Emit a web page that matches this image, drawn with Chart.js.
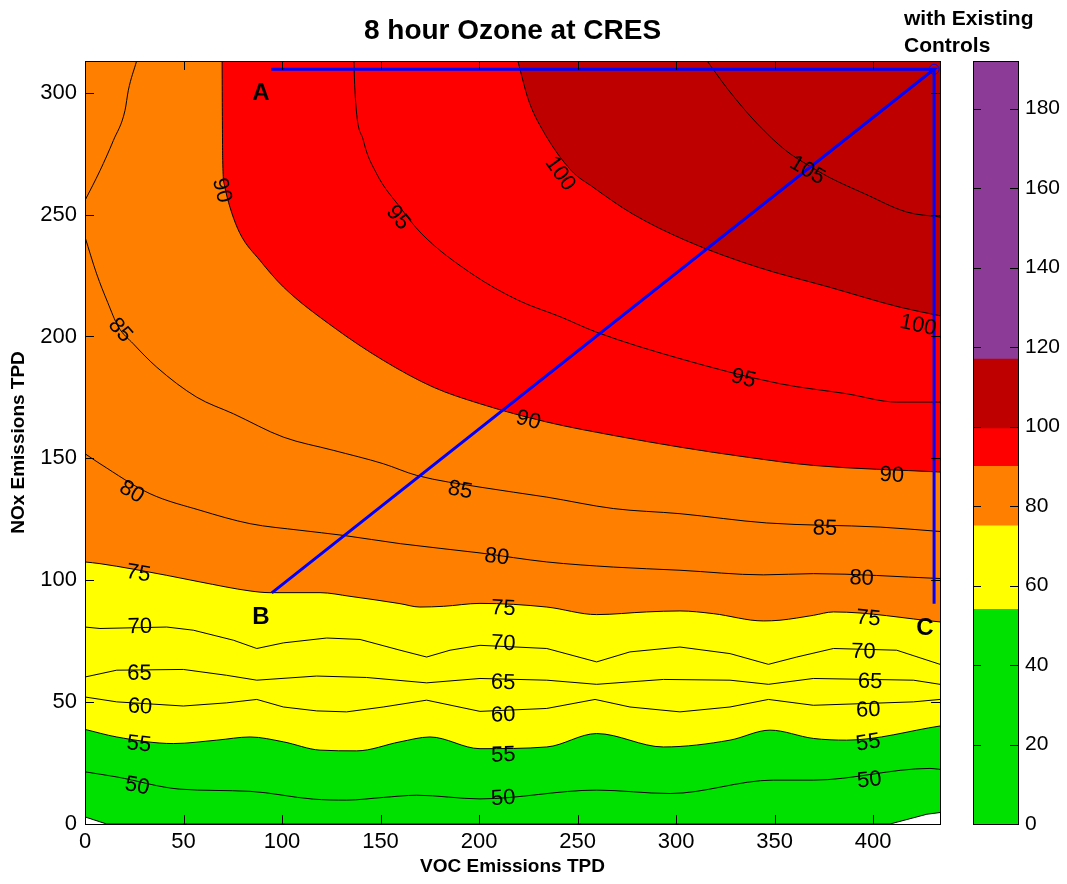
<!DOCTYPE html>
<html>
<head>
<meta charset="utf-8">
<script src="https://cdn.jsdelivr.net/npm/chart.js@4.4.1/dist/chart.umd.min.js"></script>
<style>
  body { margin: 0; background: #fff; width: 1067px; height: 884px; position: relative; overflow: hidden; font-family: "Liberation Sans", Arial, sans-serif; }
  #main { position: absolute; left: 0; top: 0; }
  #bar { position: absolute; left: 960px; top: 0; }
  #cbTitle { position: absolute; left: 904px; top: 4px; font-weight: bold; font-size: 21px; line-height: 27px; color: #000; }
</style>
</head>
<body>
<canvas id="main" width="960" height="884"></canvas>
<canvas id="bar" width="107" height="884"></canvas>
<div id="cbTitle">with Existing<br>Controls</div>
<script>
// contour lines, [VOC, NOx] pairs
const c45 = [[0, 2.9], [11, 0], [408.6, 0], [427.3, 4], [434, 4.7]];
const c50 = [[0, 21.4], [16.1, 19.3], [48.2, 14.3], [83.8, 13.4], [115.9, 10.2], [132.8, 9.8], [151.4, 10.9], [168.4, 11.8], [200.5, 10.3], [259.7, 13.9], [297, 12.5], [349.4, 18], [369.7, 18], [428.9, 22.8], [434, 22.4]];
const c55 = [[0, 38.8], [16.1, 35.7], [44.8, 33], [66.9, 34.4], [83.8, 35.7], [100.7, 33.7], [119.3, 30.3], [137.9, 30], [159.9, 33.7], [175.1, 35.7], [200.5, 30.9], [234.4, 31.6], [259.7, 37.1], [293.6, 31.6], [327.4, 34.4], [347.7, 38.5], [369.7, 35.1], [386.6, 34.4], [434, 40.2]];
const c60 = [[0, 52.1], [16.1, 50.1], [49.9, 48.4], [71.9, 49.7], [87.2, 51.1], [100.7, 48], [117.6, 46.4], [132.8, 46], [151.4, 48], [173.4, 50.8], [200.5, 46.2], [234.4, 47.4], [258.9, 51.1], [276.6, 48], [302, 46], [327.4, 48], [346.9, 51.1], [369.7, 48.7], [420.5, 50.1], [434, 51.1]];
const c65 = [[0, 60.3], [16.1, 63.1], [49.9, 63.4], [71.9, 61], [87.2, 59], [117.6, 60.7], [143, 60.1], [173.4, 57.9], [200.5, 59.7], [234.4, 59], [259.7, 57.3], [293.6, 59.3], [327.4, 59], [346.9, 57.3], [369.7, 59.7], [420.5, 59], [434, 57.3]];
const c70 = [[0, 80.8], [7.6, 80.2], [41.5, 80.8], [55, 79.5], [75.3, 75.4], [87.2, 72], [100.7, 74.3], [122.7, 76.3], [139.6, 75.7], [159.9, 71.3], [173.4, 68.5], [185.3, 71.3], [200.5, 73.3], [234.4, 72], [259.7, 66.5], [276.6, 70.6], [302, 72.6], [327.4, 69.9], [346.9, 65.5], [361.3, 68.5], [379.9, 72], [412, 71.3], [434, 65.5]];
const c75 = [[0, 107.5], [7.6, 106.8], [41.5, 102], [58.4, 99.3], [83.8, 95.6], [93.9, 94.9], [119.3, 94.9], [134.5, 93.4], [159.9, 90.4], [170, 89], [181.9, 89.3], [200.5, 90.5], [234.4, 89], [259.7, 85.9], [285.1, 87], [302, 87.4], [318.9, 86.3], [344.3, 83.3], [352.8, 83.6], [369.7, 85.6], [379.9, 87], [434, 82.9]];
const c80 = [[0, 151.9], [7.6, 147.8], [33, 135.5], [58.4, 128.7], [83.8, 123.2], [109.1, 120.5], [131.1, 118.4], [160, 115], [200.5, 111.2], [234.4, 107.5], [268.2, 105.4], [302, 104.1], [344.3, 102.2], [369.7, 102.7], [434, 100.7]];
const c85 = [[0, 240.8], [5.9, 225.7], [11.5, 214], [16.9, 204], [24.5, 197], [36.4, 187.4], [56.7, 175.1], [75.3, 168.3], [100.7, 158.7], [126, 153.3], [151.4, 147.8], [168.4, 143], [200.5, 138.2], [234.4, 134.1], [268.2, 129.4], [302, 127.3], [346, 123.5], [403.6, 121.8], [434, 120]];
const c85b = [[0, 255.8], [7.6, 268], [14.4, 280.4], [20.3, 292.7], [22, 301], [26.2, 313]];
const c90 = [[69.6, 313], [69.7, 294], [69.9, 272.2], [70.8, 262], [73.6, 253], [78.7, 242.2], [88.8, 231.2], [100.7, 220.3], [126, 203.9], [151.4, 190.2], [176.8, 179.2], [200.5, 172.4], [234.4, 164.9], [268.2, 159.4], [302, 154.6], [335.9, 150.5], [369.7, 147.1], [434, 144.4]];
const c95 = [[136.5, 313], [137, 301], [141.3, 280.4], [148, 266.8], [159.9, 253], [170.8, 242.2], [196.2, 225.8], [220, 214.8], [241.5, 208], [259.5, 201.8], [302, 190.9], [352.8, 180.6], [386.6, 176.5], [412, 173.1], [434, 173.1]];
const c100 = [[219.7, 313], [225.2, 296.8], [232.4, 284.5], [246.9, 268], [257.8, 261.3], [277.7, 250.4], [304.9, 239.4], [341.2, 228.5], [377.5, 220.3], [413.7, 212], [434, 208.5]];
const c105 = [[315.8, 313], [326.7, 301], [341.2, 287.3], [355.7, 276.3], [366.6, 270.5], [377.5, 265.4], [395.6, 258.6], [417.3, 251], [434, 249]];

// where the inline contour labels sit
const contourLabels = [
  { level: 50, line: c50, spots: [[26.5, 15.5], [212.3, 10.5], [398.1, 18]] },
  { level: 55, line: c55, spots: [[27.4, 32.7], [212.3, 28.2], [397.6, 33.3]] },
  { level: 60, line: c60, spots: [[27.9, 48], [212.3, 44.6], [397.6, 46.7]] },
  { level: 65, line: c65, spots: [[27.6, 61.7], [212.3, 57.9], [398.5, 58.3]] },
  { level: 70, line: c70, spots: [[27.9, 80.8], [212.3, 74], [395.1, 70.6]] },
  { level: 75, line: c75, spots: [[27.1, 102.7], [212.3, 88.4], [397.6, 84.3]] },
  { level: 80, line: c80, spots: [[23.7, 136.2], [209, 109.5], [394.2, 100.7]] },
  { level: 85, line: c85, spots: [[17.8, 202.5], [190.4, 136.9], [375.6, 121.2]] },
  { level: 90, line: c90, spots: [[69.4, 259.9], [225, 165.6], [409.5, 143]] },
  { level: 95, line: c95, spots: [[158.9, 248.7], [334.2, 182.7]] },
  { level: 100, line: c100, spots: [[241.1, 266.8], [422.8, 204.5]] },
  { level: 105, line: c105, spots: [[366.6, 268.1]] }
];

// the A-B-C path
const pathABC = [[94.8, 94.8], [431, 309.6], [94.5, 309.6]];
const pathC = [[431, 309.6], [431, 90.4]];
const letters = [['A', 89.3, 299.7], ['B', 89.3, 84.8], ['C', 426.4, 80.3]];

const vocTicks = [0, 50, 100, 150, 200, 250, 300, 350, 400];
const noxTicks = [0, 50, 100, 150, 200, 250, 300];
const cbTicks = [0, 20, 40, 60, 80, 100, 120, 140, 160, 180];
const cbBounds = [0, 54, 75, 90, 99.5, 117, 192];
const cbColors = ['#00E100', '#FFFF00', '#FF8000', '#FF0000', '#BF0000', '#8C3C96'];

const font = '"Liberation Sans", Arial, sans-serif';
Chart.defaults.font.family = font;
Chart.defaults.color = '#000';

const pts = a => a.map(p => ({ x: p[0], y: p[1] }));
const contour = (arr, extra) => Object.assign({
  data: pts(arr), borderColor: '#000', borderWidth: 1, pointRadius: 0, tension: 0, fill: false, order: 0
}, extra);
const smooth = { cubicInterpolationMode: 'monotone' };

const datasets = [
  contour(c45, { fill: 'end', backgroundColor: cbColors[0], order: 5 }),
  contour(c55, { fill: 'end', backgroundColor: cbColors[1], order: 4, ...smooth }),
  contour(c75, { fill: 'end', backgroundColor: cbColors[2], order: 3, ...smooth }),
  contour(c90, { fill: 'end', backgroundColor: cbColors[3], order: 2, ...smooth }),
  contour(c100, { fill: 'end', backgroundColor: cbColors[4], order: 1, ...smooth }),
  contour(c50, smooth), contour(c60), contour(c65), contour(c70), contour(c80, smooth),
  contour(c85, smooth), contour(c85b, smooth), contour(c95, smooth), contour(c105, smooth),
  {
    data: pts(pathABC), borderColor: '#0000FF', borderWidth: 3, tension: 0, fill: false, order: -1,
    pointRadius: [0, 5, 0], pointBorderColor: '#0000FF', pointBackgroundColor: 'rgba(0,0,0,0)', pointBorderWidth: 1
  },
  { data: pts(pathC), borderColor: '#0000FF', borderWidth: 3, tension: 0, fill: false, order: -1, pointRadius: 0 }
];

// labels, inward ticks and the frame
const decor = {
  id: 'decor',
  afterDatasetsDraw(chart) {
    const { ctx, scales: { x, y } } = chart;
    ctx.save();
    ctx.fillStyle = '#000';
    ctx.textAlign = 'center';
    ctx.textBaseline = 'middle';
    ctx.font = '22px ' + font;
    contourLabels.forEach(({ level, line, spots }) => {
      const pl = line.map(p => [x.getPixelForValue(p[0]), y.getPixelForValue(p[1])]);
      spots.forEach(([vx, vy]) => {
        const px = x.getPixelForValue(vx), py = y.getPixelForValue(vy);
        let best = Infinity, ang = 0;
        for (let i = 0; i < pl.length - 1; i++) {
          const [ax, ay] = pl[i], [bx, by] = pl[i + 1];
          const dx = bx - ax, dy = by - ay, L = dx * dx + dy * dy;
          let t = L ? ((px - ax) * dx + (py - ay) * dy) / L : 0;
          t = Math.max(0, Math.min(1, t));
          const d = Math.hypot(ax + t * dx - px, ay + t * dy - py);
          if (d < best) { best = d; ang = Math.atan2(dy, dx); }
        }
        if (ang > Math.PI / 2) ang -= Math.PI;
        if (ang <= -Math.PI / 2) ang += Math.PI;
        ctx.save();
        ctx.translate(px, py);
        ctx.rotate(ang);
        ctx.fillText(String(level), 0, 0);
        ctx.restore();
      });
    });
    ctx.font = 'bold 24px ' + font;
    letters.forEach(([t, vx, vy]) => ctx.fillText(t, x.getPixelForValue(vx), y.getPixelForValue(vy)));
    ctx.restore();
  },
  afterDraw(chart) {
    const { ctx, chartArea: a, scales: { x, y } } = chart;
    ctx.save();
    ctx.strokeStyle = '#000';
    ctx.lineWidth = 1;
    ctx.beginPath();
    vocTicks.forEach(v => {
      const p = Math.round(x.getPixelForValue(v)) + 0.5;
      ctx.moveTo(p, a.bottom); ctx.lineTo(p, a.bottom - 9);
      ctx.moveTo(p, a.top); ctx.lineTo(p, a.top + 9);
    });
    noxTicks.forEach(v => {
      const p = Math.round(y.getPixelForValue(v)) + 0.5;
      ctx.moveTo(a.left, p); ctx.lineTo(a.left + 9, p);
      ctx.moveTo(a.right, p); ctx.lineTo(a.right - 9, p);
    });
    ctx.stroke();
    ctx.strokeRect(Math.round(a.left) + 0.5, Math.round(a.top) + 0.5, Math.round(a.right - a.left), Math.round(a.bottom - a.top));
    ctx.restore();
  }
};

new Chart(document.getElementById('main'), {
  type: 'line',
  data: { datasets },
  options: {
    responsive: false,
    animation: false,
    devicePixelRatio: 1,
    layout: { padding: { left: 0, right: 20, top: 0, bottom: 0 } },
    plugins: {
      legend: { display: false },
      tooltip: { enabled: false },
      filler: { drawTime: 'beforeDatasetsDraw', propagate: false },
      title: {
        display: true, text: '8 hour Ozone at CRES', fullSize: false, color: '#000',
        font: { size: 28, weight: 'bold' }, padding: { top: 14, bottom: 13.4 }
      }
    },
    scales: {
      x: {
        type: 'linear', min: 0, max: 434,
        afterBuildTicks: s => { s.ticks = vocTicks.map(v => ({ value: v })); },
        afterFit: s => { s.height = 60; },
        grid: { display: false, drawTicks: false },
        border: { display: false },
        ticks: { font: { size: 22 }, color: '#000', padding: 5, maxRotation: 0 },
        title: { display: true, text: 'VOC Emissions TPD', color: '#000', font: { size: 19, weight: 'bold' }, padding: { top: 0, bottom: 6 } }
      },
      y: {
        type: 'linear', min: 0, max: 313,
        afterBuildTicks: s => { s.ticks = noxTicks.map(v => ({ value: v })); },
        afterFit: s => { s.width = 85; },
        grid: { display: false, drawTicks: false },
        border: { display: false },
        ticks: { font: { size: 22 }, color: '#000', padding: 8 },
        title: { display: true, text: 'NOx Emissions TPD', color: '#000', font: { size: 19, weight: 'bold' }, padding: { top: 7, bottom: 0 } }
      }
    }
  },
  plugins: [decor]
});

// colour bar
const cbFrame = {
  id: 'cbFrame',
  afterDraw(chart) {
    const { ctx, chartArea: a, scales: { y } } = chart;
    ctx.save();
    ctx.strokeStyle = '#000';
    ctx.lineWidth = 1;
    ctx.beginPath();
    cbTicks.forEach(v => {
      const p = Math.round(y.getPixelForValue(v)) + 0.5;
      ctx.moveTo(a.left, p); ctx.lineTo(a.left + 8, p);
      ctx.moveTo(a.right, p); ctx.lineTo(a.right - 8, p);
    });
    ctx.stroke();
    ctx.strokeRect(Math.round(a.left) + 0.5, Math.round(a.top) + 0.5, Math.round(a.right - a.left), Math.round(a.bottom - a.top));
    ctx.restore();
  }
};

new Chart(document.getElementById('bar'), {
  type: 'bar',
  data: {
    labels: [''],
    datasets: cbColors.map((c, i) => ({
      data: [[cbBounds[i], cbBounds[i + 1]]], backgroundColor: c, borderWidth: 0,
      barPercentage: 1, categoryPercentage: 1, grouped: false
    }))
  },
  options: {
    responsive: false,
    animation: false,
    devicePixelRatio: 1,
    layout: { padding: { left: 13, top: 61, bottom: 60, right: 0 } },
    plugins: { legend: { display: false }, tooltip: { enabled: false } },
    scales: {
      x: { display: false },
      y: {
        position: 'right', min: 0, max: 192,
        afterBuildTicks: s => { s.ticks = cbTicks.map(v => ({ value: v })); },
        afterFit: s => { s.width = 49; },
        grid: { display: false, drawTicks: false },
        border: { display: false },
        ticks: { font: { size: 21 }, color: '#000', padding: 7 }
      }
    }
  },
  plugins: [cbFrame]
});
</script>
</body>
</html>
